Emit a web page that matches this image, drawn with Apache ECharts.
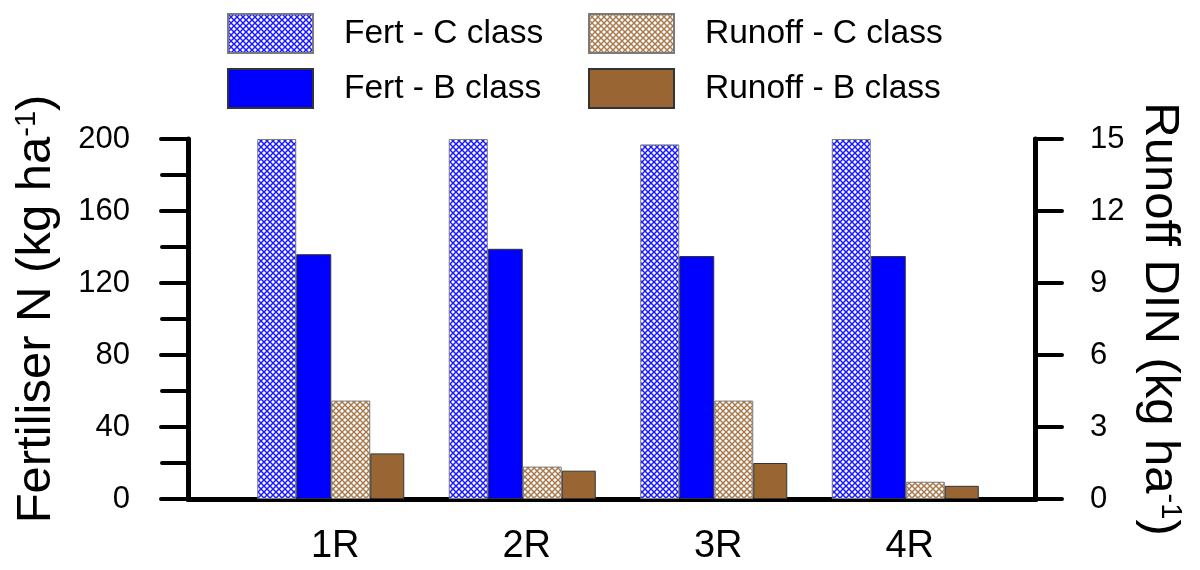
<!DOCTYPE html>
<html>
<head>
<meta charset="utf-8">
<script src="https://cdn.jsdelivr.net/npm/echarts@6/dist/echarts.min.js"></script>
<style>html,body{margin:0;padding:0;background:#fff}#c{width:1200px;height:570px}</style>
</head>
<body>
<div id="c"></div>
<script>
const categories = ['1R', '2R', '3R', '4R'];
const fertC = [200, 200, 197, 200];
const fertB = [136, 139, 135, 135];
const runoffC = [4.1, 1.35, 4.1, 0.72];
const runoffB = [1.9, 1.18, 1.5, 0.55];
const leftTicks = { min: 0, max: 200, interval: 40 };
const rightTicks = { min: 0, max: 15, interval: 3 };

function hatch(color, bg) {
  const s = 6;
  const c = document.createElement('canvas');
  c.width = s; c.height = s;
  const g = c.getContext('2d');
  g.fillStyle = bg; g.fillRect(0, 0, s, s);
  g.strokeStyle = color; g.lineWidth = 1.5;
  g.beginPath();
  g.moveTo(0, 0); g.lineTo(s, s);
  g.moveTo(s, 0); g.lineTo(0, s);
  g.stroke();
  return { image: c, repeat: 'repeat' };
}

const FONT = 'Liberation Sans, Arial, sans-serif';
const chart = echarts.init(document.getElementById('c'), null, { renderer: 'canvas' });
const legendCommon = {
  orient: 'vertical', itemWidth: 85, itemHeight: 39, itemGap: 14, icon: 'rect', padding: 0,
  textStyle: { fontSize: 33.5, color: '#000', fontFamily: FONT, padding: [0, 0, 0, 26] }
};
const supStyle = { fontSize: 29, verticalAlign: 'top', lineHeight: 49, color: '#000', fontFamily: FONT, padding: [0, 0, 14, 0] };
chart.setOption({
  animation: false,
  backgroundColor: '#fff',
  textStyle: { fontFamily: FONT },
  legend: [
    Object.assign({ left: 227, top: 13, data: ['Fert - C class', 'Fert - B class'] }, legendCommon),
    Object.assign({ left: 588, top: 13, data: ['Runoff - C class', 'Runoff - B class'] }, legendCommon)
  ],
  grid: [
    { left: 235, right: 199, top: 139, bottom: 71 },
    { left: 188, right: 164, top: 139, bottom: 71 }
  ],
  xAxis: [
    {
      type: 'category', data: categories, gridIndex: 0,
      axisLine: { show: false }, axisTick: { show: false },
      axisLabel: { fontSize: 38, color: '#000', margin: 29, fontFamily: FONT, padding: [0, 0, 0, 9] }
    },
    {
      type: 'value', gridIndex: 1, min: 0, max: 1,
      axisLine: { show: true, lineStyle: { color: '#000', width: 5, cap: 'round' } },
      axisTick: { show: false }, axisLabel: { show: false }, splitLine: { show: false }
    }
  ],
  yAxis: [
    {
      type: 'value', gridIndex: 0, position: 'left', offset: 47,
      min: leftTicks.min, max: leftTicks.max, interval: leftTicks.interval,
      name: 'Fertiliser N (kg ha{sup|-1})', nameLocation: 'middle', nameGap: 127,
      nameTextStyle: {
        fontSize: 49, color: '#000', fontFamily: FONT, lineHeight: 49, padding: [0, 0, 0, 20],
        rich: { sup: supStyle }
      },
      axisLine: { show: true, lineStyle: { color: '#000', width: 5, cap: 'round' } },
      axisTick: { show: true, length: 27, inside: false, lineStyle: { color: '#000', width: 4, cap: 'round' } },
      minorTick: { show: true, splitNumber: 2, length: 26, lineStyle: { color: '#000', width: 4, cap: 'round' } },
      axisLabel: { fontSize: 31, color: '#000', margin: 58, fontFamily: FONT },
      splitLine: { show: false }
    },
    {
      type: 'value', gridIndex: 0, position: 'right', offset: 34,
      min: rightTicks.min, max: rightTicks.max, interval: rightTicks.interval,
      name: 'Runoff DIN (kg ha{sup|-1})', nameLocation: 'middle', nameGap: 97, nameRotate: -90,
      nameTextStyle: {
        fontSize: 49, color: '#000', fontFamily: FONT, lineHeight: 49,
        rich: { sup: supStyle }
      },
      axisLine: { show: true, lineStyle: { color: '#000', width: 5, cap: 'round' } },
      axisTick: { show: true, length: 27, inside: false, lineStyle: { color: '#000', width: 4, cap: 'round' } },
      axisLabel: { fontSize: 31, color: '#000', margin: 55, fontFamily: FONT },
      splitLine: { show: false }
    },
    { type: 'value', gridIndex: 1, show: false, min: 0, max: 1 }
  ],
  series: [
    {
      name: 'Fert - C class', type: 'bar', data: fertC, yAxisIndex: 0, barWidth: 39, barGap: 0,
      itemStyle: { color: hatch('#1a1aff', '#ffffff'), borderColor: '#7a7a7a', borderWidth: 1 }
    },
    {
      name: 'Fert - B class', type: 'bar', data: fertB, yAxisIndex: 0, barWidth: 35, barGap: 0,
      itemStyle: { color: '#0000ff', borderColor: '#333', borderWidth: 1 }
    },
    {
      name: 'Runoff - C class', type: 'bar', data: runoffC, yAxisIndex: 1, barWidth: 39, barGap: 0,
      itemStyle: { color: hatch('#a97a4e', '#ffffff'), borderColor: '#7a7a7a', borderWidth: 1 }
    },
    {
      name: 'Runoff - B class', type: 'bar', data: runoffB, yAxisIndex: 1, barWidth: 34, barGap: 0,
      itemStyle: { color: '#996633', borderColor: '#333', borderWidth: 1 }
    }
  ]
});
</script>
</body>
</html>
